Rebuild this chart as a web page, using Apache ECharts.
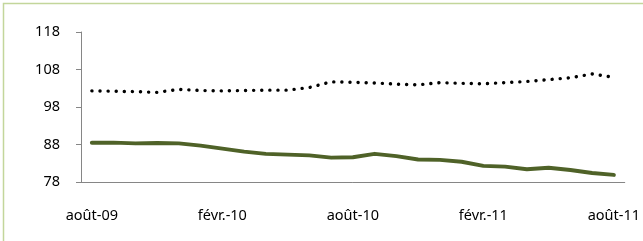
<!DOCTYPE html>
<html>
<head>
<meta charset="utf-8">
<script src="https://cdn.jsdelivr.net/npm/echarts@6/dist/echarts.min.js"></script>
<style>
  html, body { margin: 0; padding: 0; background: #fff; }
  #chart { width: 643px; height: 241px; }
</style>
</head>
<body>
<div id="chart"></div>
<script>
// monthly, août 2009 -> août 2011
const months = [
  "août-09", "sept.-09", "oct.-09", "nov.-09", "déc.-09",
  "janv.-10", "févr.-10", "mars-10", "avr.-10", "mai-10", "juin-10", "juil.-10",
  "août-10", "sept.-10", "oct.-10", "nov.-10", "déc.-10",
  "janv.-11", "févr.-11", "mars-11", "avr.-11", "mai-11", "juin-11", "juil.-11",
  "août-11"
];

const dottedSeries = [
  102.3, 102.2, 102.1, 101.9, 102.7, 102.4, 102.3, 102.4, 102.5, 102.5,
  103.2, 104.7, 104.6, 104.4, 104.1, 103.9, 104.5, 104.3, 104.2, 104.5,
  104.8, 105.3, 105.8, 106.8, 105.9
];

const greenSeries = [
  88.5, 88.5, 88.3, 88.4, 88.3, 87.7, 86.9, 86.1, 85.5, 85.3,
  85.1, 84.5, 84.6, 85.5, 84.9, 84.0, 83.9, 83.4, 82.3, 82.1,
  81.4, 81.8, 81.2, 80.4, 79.9
];

const yTicks = [78, 88, 98, 108, 118];

// value axis counts ticks from a multiple of the interval, so shift by the base
const yBase = yTicks[0];
const shift = arr => arr.map(v => +(v - yBase).toFixed(2));

const axisGrey = "#868686";
const font = "Noto Sans";

const myChart = echarts.init(document.getElementById("chart"));

myChart.setOption({
  backgroundColor: "#fff",
  animation: false,
  graphic: [{
    type: "rect",
    shape: { x: 3.5, y: 3.5, width: 700, height: 300 },
    style: { fill: "none", stroke: "#c3d69b", lineWidth: 1.5 },
    silent: true
  }],
  grid: { left: 81, right: 16, top: 32, bottom: 59 },
  xAxis: {
    type: "category",
    data: months,
    boundaryGap: true,
    axisLine: { lineStyle: { color: axisGrey, width: 1 } },
    axisTick: { interval: 5, length: 5, lineStyle: { color: axisGrey } },
    axisLabel: {
      interval: 5,
      margin: 26,
      color: "#000",
      fontFamily: font,
      fontSize: 14.5
    },
    splitLine: { show: false }
  },
  yAxis: {
    type: "value",
    min: 0,
    max: yTicks[yTicks.length - 1] - yBase,
    interval: yTicks[1] - yTicks[0],
    axisLine: { show: true, lineStyle: { color: axisGrey, width: 1 } },
    axisTick: { show: true, length: 5, lineStyle: { color: axisGrey } },
    axisLabel: {
      margin: 21,
      color: "#000",
      fontFamily: font,
      fontSize: 14.5,
      formatter: v => String(v + yBase)
    },
    splitLine: { show: false }
  },
  series: [
    {
      type: "line",
      data: shift(dottedSeries),
      showSymbol: false,
      lineStyle: { color: "#000", width: 3.4, type: [0.1, 8], cap: "round" }
    },
    {
      type: "line",
      data: shift(greenSeries),
      showSymbol: false,
      lineStyle: { color: "#4f6228", width: 4, cap: "round", join: "round" }
    }
  ]
});
</script>
</body>
</html>
